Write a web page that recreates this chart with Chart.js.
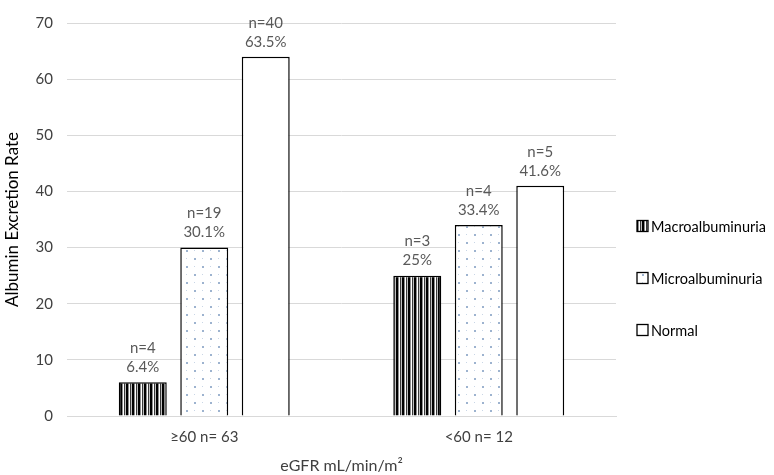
<!DOCTYPE html>
<html lang="en">
<head>
<meta charset="UTF-8">
<title>Albumin Excretion Rate</title>
<style>
  html, body { margin: 0; padding: 0; background: #ffffff; }
  #grafico { display: block; }
</style>
</head>
<body>
<canvas id="grafico" width="774" height="475"></canvas>

<script src="https://cdn.jsdelivr.net/npm/chart.js"></script>
<script>
// dados do gráfico
const categorias = ['≥60 n= 63', '<60 n= 12'];
const series = ['Macroalbuminuria', 'Microalbuminuria', 'Normal'];
const macro = [6, 25];
const micro = [30, 34];
const normal = [64, 41];
const nMacro = ['n=4', 'n=3'];
const nMicro = ['n=19', 'n=4'];
const nNormal = ['n=40', 'n=5'];
const pctMacro = ['6.4%', '25%'];
const pctMicro = ['30.1%', '33.4%'];
const pctNormal = ['63.5%', '41.6%'];
const ticksY = [0, 10, 20, 30, 40, 50, 60, 70];

const fonte = 'Lato, "Open Sans", sans-serif';

// padrões de preenchimento
function listrado() {
  const c = document.createElement('canvas');
  c.width = 6; c.height = 6;
  const g = c.getContext('2d');
  g.fillStyle = '#ffffff';
  g.fillRect(0, 0, 6, 6);
  const cores = ['#000000', '#000000', '#8c8c8c', '#ffffff', '#3a3a3a', '#bfbfbf'];
  cores.forEach((cor, i) => { g.fillStyle = cor; g.fillRect(i, 0, 1, 6); });
  return g.createPattern(c, 'repeat');
}

function pontilhado() {
  const c = document.createElement('canvas');
  c.width = 16; c.height = 16;
  const g = c.getContext('2d');
  g.fillStyle = '#ffffff';
  g.fillRect(0, 0, 16, 16);
  g.fillStyle = '#9db3cf';
  g.fillRect(2, 2, 2, 2);
  g.fillRect(10, 10, 2, 2);
  g.fillStyle = '#c9d6e6';
  g.fillRect(10, 2, 1, 1);
  g.fillRect(2, 10, 1, 1);
  return g.createPattern(c, 'repeat');
}

const preenchimentos = [listrado(), pontilhado(), '#ffffff'];
const rotulosN = [nMacro, nMicro, nNormal];
const rotulosPct = [pctMacro, pctMicro, pctNormal];

// rótulos acima das barras
const rotulosBarras = {
  id: 'rotulosBarras',
  afterDatasetsDraw(chart) {
    const ctx = chart.ctx;
    ctx.save();
    ctx.font = '15px ' + fonte;
    ctx.fillStyle = '#595959';
    ctx.textAlign = 'center';
    ctx.textBaseline = 'middle';
    chart.data.datasets.forEach((ds, i) => {
      chart.getDatasetMeta(i).data.forEach((bar, j) => {
        ctx.fillText(rotulosPct[i][j], bar.x, bar.y - 15);
        ctx.fillText(rotulosN[i][j], bar.x, bar.y - 34);
      });
    });
    ctx.restore();
  }
};

// legenda à direita
const legenda = {
  id: 'legenda',
  afterDraw(chart) {
    const ctx = chart.ctx;
    ctx.save();
    ctx.font = '14.5px ' + fonte;
    ctx.textBaseline = 'middle';
    chart.data.datasets.forEach((ds, i) => {
      const y = 226 + i * 52;
      ctx.fillStyle = ds.backgroundColor;
      ctx.fillRect(637, y - 5.5, 11, 11);
      ctx.strokeStyle = '#000000';
      ctx.lineWidth = 1.3;
      ctx.strokeRect(637, y - 5.5, 11, 11);
      ctx.fillStyle = '#000000';
      ctx.fillText(ds.label, 651, y + 1);
    });
    ctx.restore();
  }
};

new Chart(document.getElementById('grafico'), {
  type: 'bar',
  data: {
    labels: categorias,
    datasets: [
      { label: series[0], data: macro, backgroundColor: preenchimentos[0] },
      { label: series[1], data: micro, backgroundColor: preenchimentos[1] },
      { label: series[2], data: normal, backgroundColor: preenchimentos[2] }
    ]
  },
  options: {
    responsive: false,
    animation: false,
    devicePixelRatio: 1,
    layout: { padding: { top: 10, right: 158, bottom: 0, left: 0 } },
    datasets: {
      bar: {
        borderColor: '#000000',
        borderWidth: 1.5,
        barPercentage: 0.78,
        categoryPercentage: 0.672
      }
    },
    plugins: {
      legend: { display: false },
      tooltip: { enabled: false }
    },
    scales: {
      x: {
        grid: { display: false, drawTicks: false },
        border: { display: true, color: '#d9d9d9', width: 1 },
        ticks: { color: '#404040', font: { family: fonte, size: 15 }, padding: 12 },
        title: {
          display: true,
          text: 'eGFR mL/min/m²',
          color: '#404040',
          font: { family: fonte, size: 16 },
          padding: { top: 4, bottom: 0 }
        },
        afterFit(scale) { scale.height = 59; }
      },
      y: {
        min: 0,
        max: 70,
        afterBuildTicks(scale) { scale.ticks = ticksY.map(v => ({ value: v })); },
        grid: { color: '#d9d9d9', drawTicks: false },
        border: { display: false },
        ticks: { color: '#404040', font: { family: fonte, size: 15 }, padding: 14 },
        title: {
          display: true,
          text: 'Albumin Excretion Rate',
          color: '#000000',
          font: { family: fonte, size: 17 },
          padding: { top: 2, bottom: 2 }
        },
        afterFit(scale) { scale.width = 67; }
      }
    }
  },
  plugins: [rotulosBarras, legenda]
});
</script>
</body>
</html>
